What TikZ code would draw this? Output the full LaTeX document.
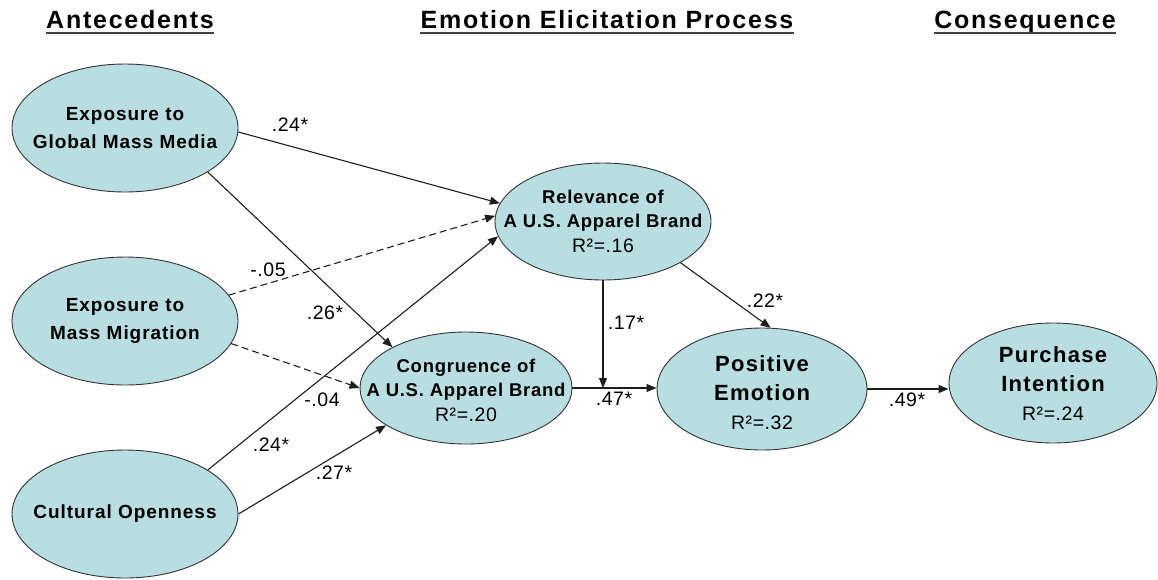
\documentclass[tikz,border=0pt]{standalone}
\usepackage{fontspec}
\setmainfont{Liberation Sans}
\newfontfamily\hdfont{Liberation Sans}[LetterSpace=7]
\newfontfamily\nodefont{Liberation Sans}[LetterSpace=5]
\newfontfamily\midfont{Liberation Sans}[LetterSpace=4]
\newfontfamily\bigfont{Liberation Sans}[LetterSpace=6]
\newfontfamily\rfont{Liberation Sans}[LetterSpace=3]
\usetikzlibrary{shapes.geometric,arrows.meta}
\definecolor{ellfill}{RGB}{184,222,226}
\definecolor{linecol}{RGB}{30,30,30}
\begin{document}
\begin{tikzpicture}[x=1pt,y=-1pt,
  ell/.style={ellipse, draw=black!80, line width=0.9pt, fill=ellfill, inner sep=0pt},
  txt/.style={align=center, inner sep=0pt},
  arr/.style={draw=linecol, line width=1.1pt, -{Triangle[length=10pt,width=8pt]}},
  dsh/.style={arr, dash pattern=on 7pt off 4pt},
  lab/.style={font=\rfont\fontsize{19.5}{21}\selectfont, inner sep=0pt},
  hd/.style={font=\hdfont\bfseries\fontsize{25}{28}\selectfont, inner sep=0pt, anchor=base},
  ul/.style={draw=black!75, line width=2pt},
  ntx/.style={font=\nodefont\bfseries\fontsize{19}{28}\selectfont},
  mtx/.style={font=\midfont\bfseries\fontsize{18.5}{24.5}\selectfont},
  btx/.style={font=\bigfont\bfseries\fontsize{22}{29}\selectfont}
]
\useasboundingbox (0,0) rectangle (1158,579);
\fill[white] (0,0) rectangle (1158,579);

% headings
\node[hd] (h1) at (130,28) {Antecedents};
\node[hd] (h2) at (607,28) {Emotion Elicitation Process};
\node[hd] (h3) at (1025,28) {Consequence};
\foreach \h in {h1,h2,h3}
  \draw[ul] ([yshift=-4.5pt]\h.base west) -- ([yshift=-4.5pt]\h.base east);

% ellipses
\node[ell, minimum width=226pt, minimum height=128pt] (gmm) at (125,128) {};
\node[ell, minimum width=226pt, minimum height=128pt] (mm) at (125,321) {};
\node[ell, minimum width=226pt, minimum height=128pt] (cult) at (125,514) {};
\node[ell, minimum width=216pt, minimum height=117pt] (rel) at (603,221.5) {};
\node[ell, minimum width=212pt, minimum height=112pt] (cong) at (466,388) {};
\node[ell, minimum width=210pt, minimum height=122pt] (pe) at (762,389) {};
\node[ell, minimum width=208pt, minimum height=120pt] (pi) at (1053,383) {};

% texts
\node[txt, ntx] (gmm-t) at (gmm) {Exposure to\\Global Mass Media};
\node[txt, ntx] (mm-t) at (mm) {Exposure to\\Mass Migration};
\node[txt, ntx] (cult-t) at (cult) {Cultural Openness};
\node[txt, mtx] (rel-t) at (603,221) {Relevance of\\A U.S. Apparel Brand\\{\rfont\mdseries\fontsize{19.5}{24.5}\selectfont R²=.16}};
\node[txt, mtx] (cong-t) at (466,390) {Congruence of\\A U.S. Apparel Brand\\{\rfont\mdseries\fontsize{19.5}{24.5}\selectfont R²=.20}};
\node[txt, btx] (pe-t) at (762,393) {Positive\\Emotion\\{\rfont\mdseries\fontsize{19.5}{29}\selectfont R²=.32}};
\node[txt, btx] (pi-t) at (1053,384) {Purchase\\Intention\\{\rfont\mdseries\fontsize{19.5}{29}\selectfont R²=.24}};

% connectors
\draw[arr] (gmm.-2) -- (rel.170);
\draw[dsh] (mm.14) -- (rel.177);
\draw[arr] (cult.28) -- (rel.-172);
\draw[arr] (gmm.-28) -- (cong.151);
\draw[dsh] (mm.-12) -- (cong.180);
\draw[arr] (cult.0) -- (cong.205);
\draw[arr] (rel.-28) -- (pe.82);
\draw[arr] (cong.east) -- (cong.east -| pe.west);
\coordinate (jn) at (rel.south |- cong.east);
\draw[arr] (rel.south) -- (jn);
\draw[arr] (pe.east) -- (pe.east -| pi.west);

% path labels
\node[lab] (l1) at (290,125) {.24*};
\node[lab] (l2) at (325,313) {.26*};
\node[lab] (l3) at (268,270) {-.05};
\node[lab] (l4) at (322,400) {-.04};
\node[lab] (l5) at (271,445) {.24*};
\node[lab] (l6) at (334,473) {.27*};
\node[lab] (l7) at (765,301) {.22*};
\node[lab] (l8) at (626,323) {.17*};
\node[lab] (l9) at (614,399) {.47*};
\node[lab] (l10) at (907,400) {.49*};
\end{tikzpicture}
\end{document}
